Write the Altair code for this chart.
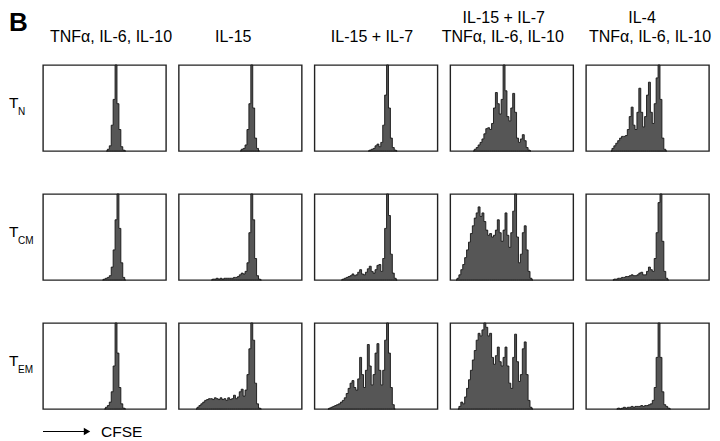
import altair as alt
import pandas as pd

# ---------------- data (CFSE histograms, channel index 0..64, counts scaled 0..100) -------------
ROW_LABELS = [("T", "N"), ("T", "CM"), ("T", "EM")]
COL_TITLES = [
    ["TNFα, IL-6, IL-10"],
    ["IL-15"],
    ["IL-15 + IL-7"],
    ["IL-15 + IL-7", "TNFα, IL-6, IL-10"],
    ["IL-4", "TNFα, IL-6, IL-10"],
]
# horizontal nudge of each title line from the panel centre
TITLE_DX = [[6.5], [-7], [-4], [-8, -9], [-5.5, 2.5]]

# T_N row
TN_1_START = 34
TN_1 = [2, 6, 30, 60, 100, 55, 25, 5, 1]
TN_2_START = 33
TN_2 = [2, 3, 7, 25, 55, 100, 50, 15, 3]
TN_3_START = 29
TN_3 = [1, 2, 3, 6, 8, 5, 10, 30, 65, 100, 50, 15, 4, 1]
TN_4_START = 13
TN_4 = [2, 4, 7, 10, 14, 20, 26, 27, 25, 32, 50, 68, 55, 43, 60, 100, 70, 40, 35,
        50, 67, 45, 15, 10, 14, 19, 12, 4, 1]
TN_5_START = 14
TN_5 = [3, 6, 9, 12, 15, 17, 17, 18, 25, 40, 51, 30, 25, 45, 73, 45, 28, 40, 65,
        80, 45, 32, 55, 85, 100, 60, 15, 2]

# T_CM row
TCM_1_START = 32
TCM_1 = [1, 2, 3, 5, 15, 35, 70, 100, 60, 20, 3]
TCM_2_START = 18
TCM_2 = [1, 1, 2, 1, 2, 1, 2, 2, 2, 2, 2, 3, 3, 4, 6, 8, 7, 10, 20, 55, 100, 70, 25, 5, 1]
TCM_3_START = 15
TCM_3 = [1, 2, 3, 4, 5, 7, 5, 6, 9, 12, 7, 6, 9, 13, 16, 10, 8, 12, 17, 18, 10, 25,
         60, 100, 75, 30, 8, 2]
TCM_4_START = 4
TCM_4 = [2, 6, 12, 18, 26, 35, 44, 54, 63, 72, 78, 85, 74, 78, 68, 58, 52, 54, 50, 52,
         58, 70, 55, 45, 58, 78, 52, 38, 55, 80, 100, 50, 20, 30, 55, 63, 35, 10, 2]
TCM_5_START = 15
TCM_5 = [1, 1, 2, 2, 3, 3, 4, 4, 5, 6, 5, 5, 6, 8, 9, 6, 6, 10, 15, 12, 10, 25, 55,
         90, 100, 45, 10, 2]

# T_EM row
TEM_1_START = 33
TEM_1 = [2, 4, 8, 20, 50, 100, 65, 25, 6, 1]
TEM_2_START = 10
TEM_2 = [2, 4, 6, 8, 10, 11, 12, 12, 11, 13, 12, 11, 13, 11, 12, 10, 13, 11, 12, 16,
         12, 14, 20, 23, 15, 22, 40, 70, 100, 80, 30, 6, 1]
TEM_3_START = 8
TEM_3 = [1, 2, 3, 4, 5, 6, 8, 10, 13, 18, 24, 30, 33, 25, 22, 35, 60, 40, 25, 45, 75,
         50, 28, 40, 65, 76, 45, 28, 45, 80, 100, 65, 25, 5]
TEM_4_START = 5
TEM_4 = [3, 8, 6, 14, 24, 34, 45, 57, 68, 80, 88, 85, 92, 100, 95, 85, 88, 60, 52, 62,
         72, 55, 50, 60, 72, 50, 30, 24, 60, 87, 55, 32, 40, 70, 78, 40, 10, 2]
TEM_5_START = 17
TEM_5 = [1, 0, 1, 2, 1, 2, 2, 3, 2, 3, 3, 3, 4, 3, 4, 4, 5, 6, 10, 25, 60, 100, 60, 20, 5, 3, 1]

PANELS = [
    [(TN_1_START, TN_1), (TN_2_START, TN_2), (TN_3_START, TN_3), (TN_4_START, TN_4), (TN_5_START, TN_5)],
    [(TCM_1_START, TCM_1), (TCM_2_START, TCM_2), (TCM_3_START, TCM_3), (TCM_4_START, TCM_4), (TCM_5_START, TCM_5)],
    [(TEM_1_START, TEM_1), (TEM_2_START, TEM_2), (TEM_3_START, TEM_3), (TEM_4_START, TEM_4), (TEM_5_START, TEM_5)],
]

FONT = "Liberation Sans"
PW, PH = 123, 86


def panel_df(start, values):
    ch = [start - 1] + [start + i for i in range(len(values))] + [start + len(values)]
    cnt = [0] + list(values) + [0]
    return pd.DataFrame({"channel": ch, "count": cnt})


def text_layer(txt, x, y, size, weight="normal", baseline="alphabetic", align="left"):
    return alt.Chart(pd.DataFrame({"t": [txt]})).mark_text(
        font=FONT, fontSize=size, fontWeight=weight, align=align,
        baseline=baseline, color="black"
    ).encode(x=alt.value(x), y=alt.value(y), text="t:N")


charts = []
for r in range(3):
    for c in range(5):
        start, vals = PANELS[r][c]
        hist = alt.Chart(panel_df(start, vals)).mark_area(
            interpolate="step", fill="#565656", stroke="#151515", strokeWidth=0.9
        ).encode(
            x=alt.X("channel:Q", scale=alt.Scale(domain=[0, 64], nice=False, zero=False), axis=None),
            y=alt.Y("count:Q", scale=alt.Scale(domain=[0, 100], nice=False), axis=None),
        )
        layers = [hist]
        if r == 0:
            lines = COL_TITLES[c]
            n = len(lines)
            for i, line in enumerate(lines):
                y = -23 - (n - 1 - i) * 19.5
                layers.append(text_layer(line, PW / 2 + TITLE_DX[c][i], y, 16, align="center"))
        if c == 0:
            main, sub = ROW_LABELS[r]
            layers.append(text_layer(main, -34, 42.5, 15.5))
            layers.append(text_layer(sub, -25, 49.5, 10))
        if r == 0 and c == 0:
            layers.append(text_layer("B", -34, -55, 26, weight="bold", baseline="top"))
        if r == 2 and c == 0:
            layers.append(
                alt.Chart(pd.DataFrame({"a": [0]})).mark_rule(color="black", strokeWidth=1.2).encode(
                    x=alt.value(0), x2=alt.value(41), y=alt.value(108.5)
                )
            )
            layers.append(
                alt.Chart(pd.DataFrame({"a": [0]})).mark_point(
                    shape="triangle-right", filled=True, size=55, color="black", opacity=1
                ).encode(x=alt.value(44), y=alt.value(108.5))
            )
            layers.append(text_layer("CFSE", 58, 114, 15.5))
        ch = alt.layer(*layers).properties(width=PW, height=PH)
        charts.append(ch)

chart = alt.concat(
    *charts, columns=5, spacing=alt.RowColnumber(row=43, column=12.75), bounds="flush"
).properties(padding=0).configure_view(stroke="#222222", strokeWidth=1.4)

chart.save("out.html", embed_options={"renderer": "svg", "actions": False})
